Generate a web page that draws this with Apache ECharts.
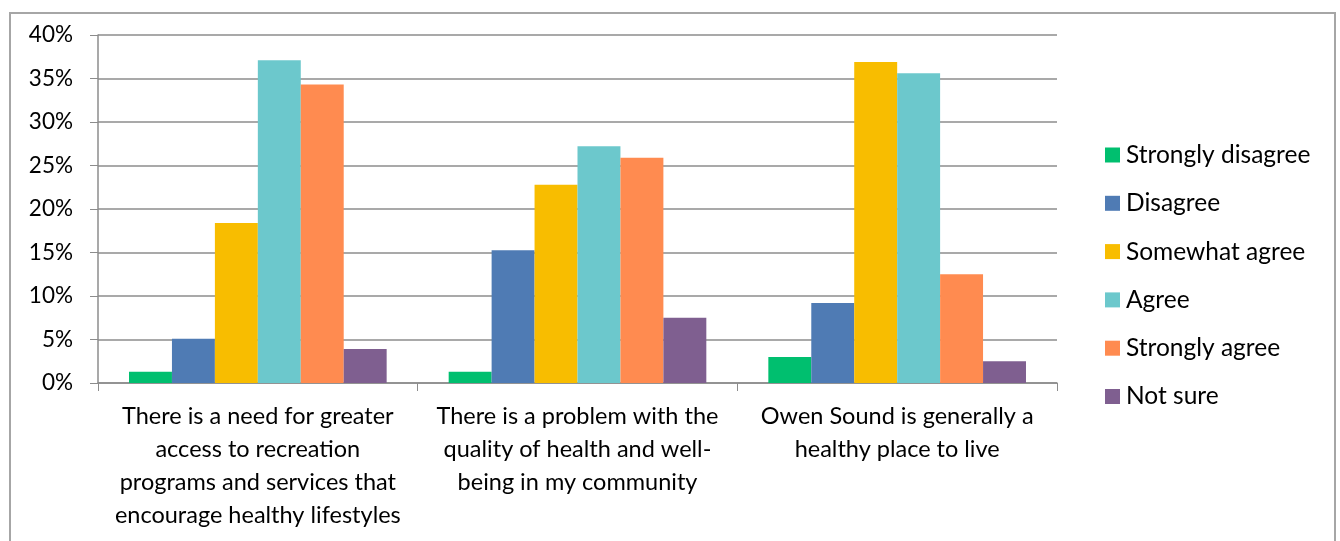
<!DOCTYPE html>
<html><head><meta charset="utf-8">
<script src="https://cdn.jsdelivr.net/npm/echarts@6/dist/echarts.min.js"></script>
<style>html,body{margin:0;padding:0;background:#fff}#c{width:1340px;height:541px}</style>
</head><body><div id="c"></div>
<script>
const categories = [
  "There is a need for greater\naccess to recreation\nprograms and services that\nencourage healthy lifestyles",
  "There is a problem with the\nquality of health and well-\nbeing in my community",
  "Owen Sound is generally a\nhealthy place to live"
];
const seriesNames = ["Strongly disagree","Disagree","Somewhat agree","Agree","Strongly agree","Not sure"];
const stronglyDisagree = [1.3, 1.3, 3.0];
const disagree = [5.1, 15.25, 9.2];
const somewhatAgree = [18.4, 22.8, 36.9];
const agree = [37.1, 27.2, 35.6];
const stronglyAgree = [34.3, 25.9, 12.5];
const notSure = [3.9, 7.5, 2.5];
const yTicks = [0, 5, 10, 15, 20, 25, 30, 35, 40];
const colors = ["#00bf6f","#4f7bb4","#f8bd00","#6cc8cc","#ff8b50","#7f5f90"];
const values = [stronglyDisagree, disagree, somewhatAgree, agree, stronglyAgree, notSure];
const font = "Lato";

const chart = echarts.init(document.getElementById('c'), null, {renderer:'canvas'});
chart.setOption({
  animation:false,
  backgroundColor:'#fff',
  textStyle:{fontFamily:font},
  graphic:[{type:'rect',shape:{x:10,y:13,width:1325,height:560},style:{fill:'none',stroke:'#a6a6a6',lineWidth:2},silent:true}],
  grid:{left:98,right:283,top:35,bottom:158,containLabel:false},
  legend:{
    orient:'vertical', left:1100, top:136,
    itemWidth:15, itemHeight:15, itemGap:20.3,
    icon:'rect',
    data:seriesNames,
    textStyle:{fontFamily:font,fontSize:24.5,color:'#000',lineHeight:28,padding:[0,0,0,1]}
  },
  xAxis:{
    type:'category', data:categories,
    axisLine:{lineStyle:{color:'#8c8c8c',width:1.5}},
    axisTick:{show:true,length:8,lineStyle:{color:'#8c8c8c'}},
    axisLabel:{interval:0,fontFamily:font,fontSize:23.5,color:'#000',lineHeight:33,margin:17}
  },
  yAxis:{
    type:'value', min:0, max:40, interval:5,
    axisLine:{show:true,lineStyle:{color:'#8c8c8c',width:1.5}},
    axisTick:{show:true,length:8,lineStyle:{color:'#8c8c8c'}},
    splitLine:{lineStyle:{color:'#8c8c8c',width:1.5}},
    axisLabel:{fontFamily:font,fontSize:22.5,color:'#000',margin:25,
      formatter:v=>yTicks.includes(v)?v+'%':''}
  },
  series: seriesNames.map((n,i)=>({
    name:n, type:'bar', data:values[i],
    barGap:'0%', barCategoryGap:'19.4%',
    itemStyle:{color:colors[i]}
  }))
});
</script></body></html>
